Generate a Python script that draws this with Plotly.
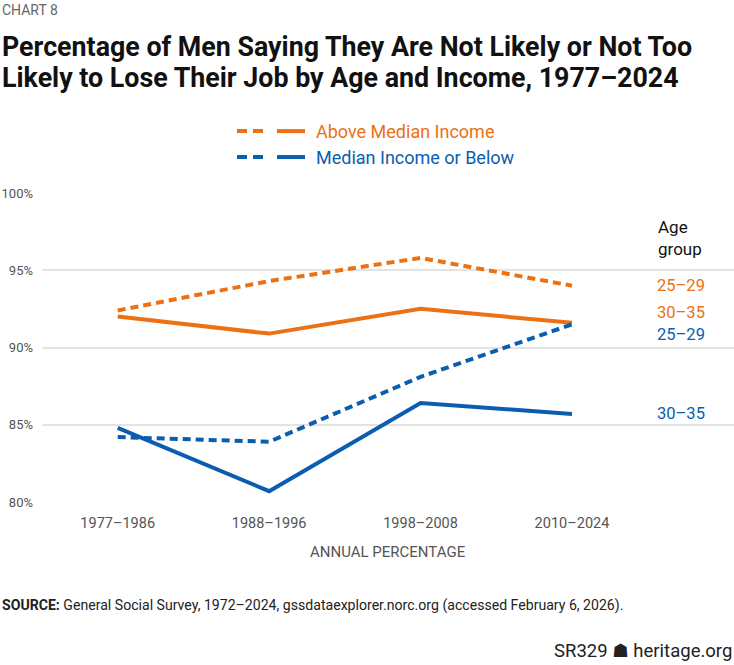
import plotly.graph_objects as go

categories = ["1977–1986", "1988–1996", "1998–2008", "2010–2024"]
above_25_29 = [92.4, 94.3, 95.8, 94.0]
above_30_35 = [92.0, 90.9, 92.5, 91.6]
below_25_29 = [84.2, 83.9, 88.1, 91.5]
below_30_35 = [84.8, 80.7, 86.4, 85.7]
y_ticks = [80, 85, 90, 95, 100]
y_tick_labels = ["80%", "85%", "90%", "95%", "100%"]

ORANGE = "#EC7014"
BLUE = "#0B5DB0"
GRAY = "#555555"
FONT = "Roboto"

xs = list(range(len(categories)))
fig = go.Figure()
series = [
    (above_25_29, ORANGE, "8px,5px"),
    (above_30_35, ORANGE, "solid"),
    (below_25_29, BLUE, "8px,5px"),
    (below_30_35, BLUE, "solid"),
]
for vals, col, dash in series:
    fig.add_trace(go.Scatter(x=xs, y=vals, mode="lines",
                             line=dict(color=col, width=4, dash=dash),
                             hoverinfo="skip", showlegend=False))

fig.update_layout(
    width=734, height=665,
    margin=dict(l=42, r=0, t=193, b=163),
    paper_bgcolor="white", plot_bgcolor="white",
    font=dict(family=FONT, color=GRAY),
    xaxis=dict(range=[-0.5, 4.07], tickvals=xs, ticktext=categories,
               showgrid=False, zeroline=False, showline=False,
               tickfont=dict(size=14.5, color=GRAY), ticks="", ticklen=0,
               ticklabelstandoff=10),
    yaxis=dict(range=[80, 100], tickvals=y_ticks, ticktext=y_tick_labels,
               showgrid=True, gridcolor="#E3E3E3", gridwidth=1.5,
               zeroline=False, showline=False, ticks="",
               tickfont=dict(size=13, color=GRAY), ticklabelstandoff=8),
)

def pa(text, x, y, size, color, xanchor="left", yanchor="middle", family=FONT):
    # x, y in pixel coords of the page (top-left origin)
    return dict(text=text, xref="paper", yref="paper",
                x=(x - 42) / 692, y=(502.5 - y) / 309.5,
                xanchor=xanchor, yanchor=yanchor, showarrow=False,
                font=dict(size=size, color=color, family=family))

ann = [
    pa("CHART 8", 0, 10, 14, "#666666"),
    pa("<b>Percentage of Men Saying They Are Not Likely or Not Too</b>",
       0, 47, 26.8, "#111111"),
    pa("<b>Likely to Lose Their Job by Age and Income, 1977–2024</b>",
       0, 78, 26.8, "#111111"),
    pa("Above Median Income", 314, 131, 18, ORANGE),
    pa("Median Income or Below", 314, 157, 18, BLUE),
    pa("Age<br>group", 656, 238, 17, "#111111"),
    pa("ANNUAL PERCENTAGE", 388, 553, 15, GRAY, xanchor="center"),
    pa("<b>SOURCE:</b> General Social Survey, 1972–2024, gssdataexplorer.norc.org (accessed February 6, 2026).",
       0, 606, 14.1, "#222222"),
    pa("SR329 <span style='font-family:DejaVu Sans'>☗</span> heritage.org", 734, 652, 18.5, "#222222", xanchor="right"),
]
for a in ann:
    a["align"] = "left"

# end labels anchored to last data points
end_labels = [
    ("25–29", above_25_29[-1], ORANGE, 0),
    ("30–35", above_30_35[-1], ORANGE, 10),
    ("25–29", below_25_29[-1], BLUE, -10),
    ("30–35", below_30_35[-1], BLUE, 0),
]
for txt, v, col, ys in end_labels:
    ann.append(dict(text=txt, x=3, y=v, xref="x", yref="y", xanchor="left",
                    yanchor="middle", xshift=84, yshift=ys, showarrow=False,
                    borderpad=0,
                    font=dict(size=16.5, color=col, family=FONT)))
fig.update_layout(annotations=ann)

# legend samples
def px(x):
    return (x - 42) / 692
def py(y):
    return (502.5 - y) / 309.5
shapes = []
for y, col in [(131, ORANGE), (157, BLUE)]:
    shapes.append(dict(type="line", xref="paper", yref="paper",
                       x0=px(237), x1=px(263), y0=py(y), y1=py(y),
                       line=dict(color=col, width=4, dash="10px,6px")))
    shapes.append(dict(type="line", xref="paper", yref="paper",
                       x0=px(277), x1=px(305), y0=py(y), y1=py(y),
                       line=dict(color=col, width=4)))
fig.update_layout(shapes=shapes)

fig.write_html("out.html")
